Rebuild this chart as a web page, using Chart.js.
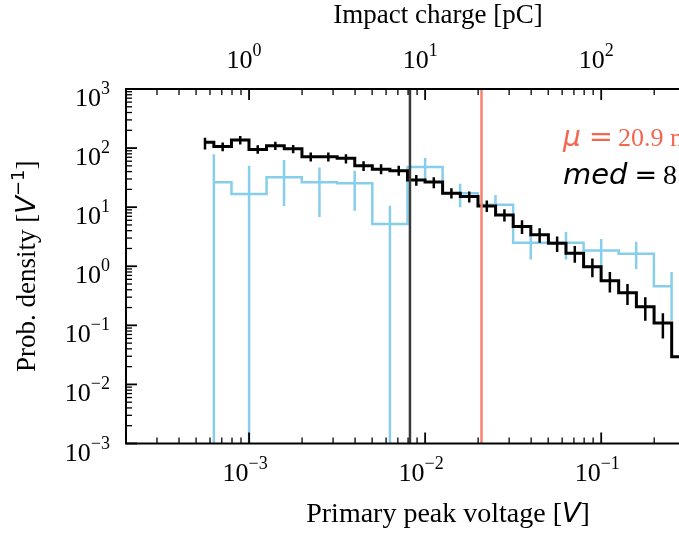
<!DOCTYPE html>
<html>
<head>
<meta charset="utf-8">
<script src="https://cdn.jsdelivr.net/npm/chart.js@4.4.0/dist/chart.umd.min.js"></script>
<style>
  html, body { margin: 0; padding: 0; background: #fff; overflow: hidden; }
  #wrap { position: relative; width: 800px; height: 538px; }
</style>
</head>
<body>
<div id="wrap"><canvas id="chart" width="800" height="538"></canvas></div>
<script>
// ---- data -----------------------------------------------------------------
// all-impacts histogram: bin centres [V], density [1/V], error band
const blackCenters = [5.62e-4, 7.08e-4, 8.91e-4, 1.12e-3, 1.41e-3, 1.78e-3, 2.24e-3, 2.82e-3,
  3.55e-3, 4.47e-3, 5.62e-3, 7.08e-3, 8.91e-3, 1.12e-2, 1.41e-2, 1.78e-2, 2.24e-2, 2.82e-2,
  3.55e-2, 4.47e-2, 5.62e-2, 7.08e-2, 8.91e-2, 0.112, 0.141, 0.178, 0.224, 0.282];
const blackDensity = [125, 106, 137, 95, 110, 97, 71, 71, 67, 50, 44, 41.5, 28.8, 26.7, 17.2,
  15.1, 10.5, 7.4, 4.7, 3.4, 2.45, 1.66, 0.98, 0.57, 0.357, 0.207, 0.109, 0.0295];
const blackLow = [95, 88, 115, 80, 93, 82, 59, 59, 55, 41, 36, 34, 23, 21, 14, 12, 8.3, 5.7,
  3.5, 2.5, 1.75, 1.15, 0.65, 0.36, 0.22, 0.12, 0.06, 0.01];
const blackHigh = [150, 124, 160, 112, 128, 113, 84, 84, 79, 60, 53, 50, 35, 32, 21, 18.5, 13,
  9.2, 6, 4.4, 3.2, 2.2, 1.35, 0.8, 0.5, 0.3, 0.16, 0.05];

// subset histogram (light blue), coarser bins; low <= 0 means the bar runs off the axis
const blueCenters = [6.31e-4, 1.0e-3, 1.58e-3, 2.51e-3, 3.98e-3, 6.31e-3, 1.0e-2, 1.58e-2,
  2.51e-2, 3.98e-2, 6.31e-2, 0.1, 0.158, 0.251];
const blueDensity = [26.4, 16.7, 32, 26.4, 25.4, 5.2, 48, 17.2, 11, 2.5, 2.5, 1.85, 1.62, 0.46];
const blueLow = [0, 0, 10.5, 6.8, 8.7, 0, 30, 10, 7, 1.3, 1.3, 1.0, 0.9, 0.12];
const blueHigh = [79, 50, 63, 47, 41.5, 10.6, 68, 25, 16, 3.8, 3.8, 2.9, 2.6, 0.8];

// summary statistics [V]
const medianV = 0.0082;
const meanV = 0.0209;
const meanText = '20.9 mV';
const medianText = '8.2 mV';

// axis ranges
const xRange = [2e-4, 0.7];
const yRange = [1e-3, 1e3];
const chargeRange = [0.2, 700];   // top axis, pC
const xLabelExps = [-3, -2, -1];
const yLabelExps = [3, 2, 1, 0, -1, -2, -3];
const topLabelExps = [0, 1, 2];

const SERIF = "'Liberation Serif', 'Times New Roman', serif";
const SANS = "'DejaVu Sans', sans-serif";
const SALMON = '#fa8072';
const SKY = '#87ceeb';

// ---- helpers ---------------------------------------------------------------
function logTicks(min, max) {
  const out = [];
  for (let e = Math.floor(Math.log10(min)) - 1; e <= Math.ceil(Math.log10(max)); e++) {
    for (let m = 1; m < 10; m++) {
      const v = m * Math.pow(10, e);
      if (v >= min * 0.999 && v <= max * 1.001) out.push({ v: v, major: m === 1 });
    }
  }
  return out;
}

// draws "10" with a raised exponent; align: 'center' or 'right'
function drawPow(ctx, x, y, exp, align) {
  const base = '10';
  const sup = (exp < 0 ? '\u2212' : '') + Math.abs(exp);
  ctx.font = '26px ' + SERIF;
  const wb = ctx.measureText(base).width;
  ctx.font = '18px ' + SERIF;
  const ws = ctx.measureText(sup).width;
  const total = wb + ws;
  const x0 = align === 'right' ? x - total : x - total / 2;
  ctx.textAlign = 'left';
  ctx.textBaseline = 'alphabetic';
  ctx.font = '26px ' + SERIF;
  ctx.fillText(base, x0, y);
  ctx.font = '18px ' + SERIF;
  ctx.fillText(sup, x0 + wb, y - 12);
}

// draws a run of [text, font, dy, gapAfter] pieces starting at x
function drawRuns(ctx, runs, x, y) {
  ctx.textAlign = 'left';
  ctx.textBaseline = 'alphabetic';
  let cx = x;
  runs.forEach(r => {
    ctx.font = r[1];
    ctx.fillText(r[0], cx, y + (r[2] || 0));
    cx += ctx.measureText(r[0]).width + (r[3] || 0);
  });
  return cx - x;
}
function runsWidth(ctx, runs) {
  let w = 0;
  runs.forEach(r => { ctx.font = r[1]; w += ctx.measureText(r[0]).width + (r[3] || 0); });
  return w;
}

// ---- plugins ---------------------------------------------------------------
const errorBars = {
  id: 'errorBars',
  afterDatasetDraw(chart, args) {
    const ds = chart.data.datasets[args.index];
    if (!ds.errLo) return;
    const { ctx, chartArea, scales } = chart;
    ctx.save();
    ctx.beginPath();
    ctx.rect(chartArea.left, chartArea.top, chartArea.right - chartArea.left, chartArea.bottom - chartArea.top);
    ctx.clip();
    ctx.strokeStyle = ds.borderColor;
    ctx.lineWidth = ds.errWidth;
    ds.data.forEach((p, i) => {
      const px = scales.x.getPixelForValue(p.x);
      const lo = ds.errLo[i] > 0 ? scales.y.getPixelForValue(ds.errLo[i]) : chartArea.bottom + 5;
      const hi = scales.y.getPixelForValue(ds.errHi[i]);
      ctx.beginPath();
      ctx.moveTo(px, lo);
      ctx.lineTo(px, hi);
      ctx.stroke();
    });
    ctx.restore();
  }
};

const axesFrame = {
  id: 'axesFrame',
  afterDraw(chart) {
    const { ctx, chartArea: a, scales } = chart;
    ctx.save();
    ctx.fillStyle = '#000';
    ctx.strokeStyle = '#000';

    // ticks, pointing inwards
    const tick = (x1, y1, x2, y2, w) => {
      ctx.lineWidth = w;
      ctx.beginPath(); ctx.moveTo(x1, y1); ctx.lineTo(x2, y2); ctx.stroke();
    };
    logTicks(xRange[0], xRange[1]).forEach(t => {
      const px = scales.x.getPixelForValue(t.v);
      const len = t.major ? 11 : 6;
      tick(px, a.bottom, px, a.bottom - len, t.major ? 1.8 : 1.3);
    });
    logTicks(chargeRange[0], chargeRange[1]).forEach(t => {
      const px = scales.x2.getPixelForValue(t.v);
      const len = t.major ? 11 : 6;
      tick(px, a.top, px, a.top + len, t.major ? 1.8 : 1.3);
    });
    logTicks(yRange[0], yRange[1]).forEach(t => {
      const py = scales.y.getPixelForValue(t.v);
      const len = t.major ? 11 : 6;
      tick(a.left, py, a.left + len, py, t.major ? 1.8 : 1.3);
      tick(a.right, py, a.right - len, py, t.major ? 1.8 : 1.3);
    });

    // frame
    ctx.lineWidth = 2;
    ctx.strokeRect(a.left, a.top, a.right - a.left, a.bottom - a.top);

    // tick labels
    xLabelExps.forEach(e => drawPow(ctx, scales.x.getPixelForValue(Math.pow(10, e)) - 4, a.bottom + 37, e, 'center'));
    topLabelExps.forEach(e => drawPow(ctx, scales.x2.getPixelForValue(Math.pow(10, e)) - 5, a.top - 21, e, 'center'));
    yLabelExps.forEach(e => drawPow(ctx, a.left - 16, scales.y.getPixelForValue(Math.pow(10, e)) + 17, e, 'right'));

    // axis titles
    const cx = (a.left + a.right) / 2;
    const bottomRuns = [['Primary peak voltage [', '28px ' + SERIF], ['V', 'italic 27px ' + SANS], [']', '28px ' + SERIF]];
    drawRuns(ctx, bottomRuns, cx + 10 - runsWidth(ctx, bottomRuns) / 2, 522);
    const topRuns = [['Impact charge [pC]', '27px ' + SERIF]];
    drawRuns(ctx, topRuns, cx - runsWidth(ctx, topRuns) / 2, 23);

    const leftRuns = [['Prob. density [', '27px ' + SERIF], ['V', 'italic 26px ' + SANS],
      ['\u22121', '18px ' + SANS, -11], [']', '27px ' + SERIF]];
    ctx.save();
    ctx.translate(35, (a.top + a.bottom) / 2);
    ctx.rotate(-Math.PI / 2);
    drawRuns(ctx, leftRuns, -runsWidth(ctx, leftRuns) / 2, 0);
    ctx.restore();

    // statistics annotations (math part sans, value serif)
    ctx.fillStyle = '#f4664f';
    drawRuns(ctx, [['\u03bc', 'italic 28px ' + SANS, 0, 8], ['=', '29px ' + SANS, 0, 5],
      [meanText, '26px ' + SERIF]], 563, 146);
    ctx.fillStyle = '#000';
    drawRuns(ctx, [['med', 'italic 29px ' + SANS, 0, 7], ['=', '27px ' + SANS, 0, 6],
      [medianText, '28px ' + SERIF]], 563, 184);
    ctx.restore();
  }
};

// ---- chart -----------------------------------------------------------------
const toPoints = (xs, ys) => xs.map((x, i) => ({ x: x, y: ys[i] }));

new Chart(document.getElementById('chart'), {
  type: 'line',
  data: {
    datasets: [
      {
        label: 'median',
        data: [{ x: medianV, y: yRange[0] }, { x: medianV, y: yRange[1] }],
        borderColor: '#3a3a3a', borderWidth: 2.5, pointRadius: 0, order: 0
      },
      {
        label: 'mean',
        data: [{ x: meanV, y: yRange[0] }, { x: meanV, y: yRange[1] }],
        borderColor: SALMON, borderWidth: 2.5, pointRadius: 0, order: 1
      },
      {
        label: 'all',
        data: toPoints(blackCenters, blackDensity),
        borderColor: '#000000', borderWidth: 3, stepped: 'middle', pointRadius: 0,
        errLo: blackLow, errHi: blackHigh, errWidth: 2.5, order: 2
      },
      {
        label: 'subset',
        data: toPoints(blueCenters, blueDensity),
        borderColor: SKY, borderWidth: 2.5, stepped: 'middle', pointRadius: 0,
        errLo: blueLow, errHi: blueHigh, errWidth: 2.5, order: 3
      }
    ]
  },
  options: {
    responsive: false,
    animation: false,
    devicePixelRatio: 1,
    layout: { padding: { left: 126, top: 89, right: 50, bottom: 94.5 } },
    scales: {
      x: { type: 'logarithmic', min: xRange[0], max: xRange[1], display: false },
      x2: { type: 'logarithmic', position: 'top', min: chargeRange[0], max: chargeRange[1], display: false },
      y: { type: 'logarithmic', min: yRange[0], max: yRange[1], display: false }
    },
    plugins: {
      legend: { display: false },
      tooltip: { enabled: false }
    }
  },
  plugins: [errorBars, axesFrame]
});
</script>
</body>
</html>
